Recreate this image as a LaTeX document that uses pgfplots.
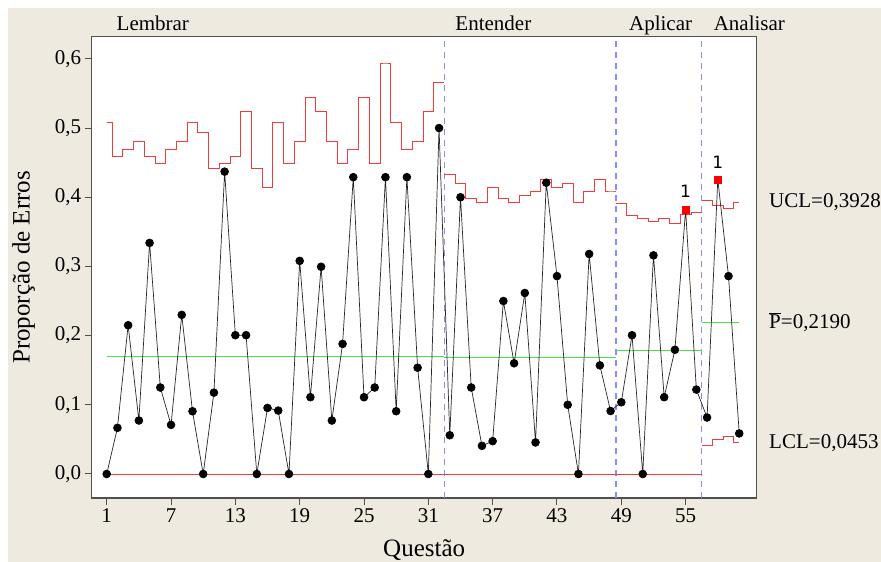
\documentclass[border=0pt]{standalone}
\usepackage{fontspec}
\setmainfont{Liberation Serif}
\newfontfamily\dejavu{DejaVu Sans}
\usepackage{pgfplots}
\pgfplotsset{compat=1.18}
\usepackage{pgfplotstable}

\definecolor{bege}{RGB}{238,234,224}
\definecolor{limred}{RGB}{242,60,60}
\definecolor{clgreen}{RGB}{70,228,70}
\definecolor{secblue}{RGB}{140,140,250}
\definecolor{axgray}{RGB}{80,80,80}

% proporcao de erros por questao (c: n = normal, o = fora de controle)
\pgfplotstableread{
q p c
1 0 n
2 0.0667 n
3 0.215 n
4 0.0773 n
5 0.334 n
6 0.125 n
7 0.071 n
8 0.230 n
9 0.0907 n
10 0 n
11 0.1176 n
12 0.437 n
13 0.2006 n
14 0.2006 n
15 0 n
16 0.0955 n
17 0.0917 n
18 0 n
19 0.308 n
20 0.111 n
21 0.2995 n
22 0.0773 n
23 0.188 n
24 0.429 n
25 0.111 n
26 0.125 n
27 0.429 n
28 0.0907 n
29 0.429 n
30 0.1536 n
31 0 n
32 0.5 n
33 0.056 n
34 0.400 n
35 0.125 n
36 0.0407 n
37 0.0475 n
38 0.250 n
39 0.160 n
40 0.2616 n
41 0.0456 n
42 0.421 n
43 0.286 n
44 0.100 n
45 0 n
46 0.318 n
47 0.157 n
48 0.091 n
49 0.1037 n
50 0.2006 n
51 0 n
52 0.316 n
53 0.111 n
54 0.1795 n
55 0.382 o
56 0.122 n
57 0.0816 n
58 0.4258 o
59 0.286 n
60 0.0586 n
}\props

\begin{document}
\begin{tikzpicture}
\useasboundingbox (0,0) rectangle (881pt,-562pt);
\fill[white] (0,0) rectangle (881pt,-562pt);
\fill[bege] (8pt,-8pt) rectangle (881pt,-562pt);
\begin{axis}[
    at={(91.7pt,-498pt)}, anchor=south west,
    scale only axis, width=665pt, height=461.3pt,
    xmin=-0.4, xmax=61.63, ymin=-0.0347, ymax=0.632,
    xtick={1,7,13,19,25,31,37,43,49,55},
    ytick={0,0.1,0.2,0.3,0.4,0.5,0.6},
    tick align=outside, major tick length=7pt,
    xtick pos=bottom, ytick pos=left,
    axis line style={axgray, line width=1.2pt},
    every tick/.style={axgray, line width=1pt},
    yticklabel style={/pgf/number format/.cd, use comma, fixed, fixed zerofill, precision=1},
    /pgf/number format/assume math mode=true,
    tick label style={font=\fontsize{21}{24}\selectfont},
    xlabel={Questão}, ylabel={Proporção de Erros},
    label style={font=\fontsize{25}{28}\selectfont},
    xlabel style={at={(axis description cs:0.5,-0.1127)}, anchor=center},
    ylabel style={at={(axis description cs:-0.1023,0.5)}, anchor=center},
    axis background/.style={fill=white},
    clip=false,
    mark size=3.9pt,
]
% divisoes entre niveis
\addplot[secblue, line width=1.25pt, dash pattern=on 6pt off 5pt] coordinates {(32.5,-0.0347) (32.5,0.632)};
\addplot[secblue, line width=1.25pt, dash pattern=on 6pt off 5pt] coordinates {(48.5,-0.0347) (48.5,0.632)};
\addplot[secblue, line width=1.25pt, dash pattern=on 6pt off 5pt] coordinates {(56.5,-0.0347) (56.5,0.632)};

% linha central
\addplot[clgreen, line width=0.9pt] coordinates {(1,0.170) (32.5,0.170)};
\addplot[clgreen, line width=0.9pt] coordinates {(32.5,0.169) (48.5,0.169)};
\addplot[clgreen, line width=0.9pt] coordinates {(48.5,0.1785) (56.5,0.1785)};
\addplot[clgreen, line width=0.9pt] coordinates {(56.5,0.219) (60,0.219)};

% LCL
\addplot[limred, line width=0.9pt] coordinates {(1,0) (56.5,0)};
\addplot[limred, line width=0.9pt, const plot mark mid] coordinates {
    (56.5,0.0418) (57,0.0418) (58,0.0504) (59,0.0537) (60,0.0453)};

% UCL
\addplot[limred, line width=0.9pt, const plot mark mid] coordinates {
    (1,0.508) (2,0.459) (3,0.469) (4,0.4805) (5,0.459) (6,0.449) (7,0.469) (8,0.4805)
    (9,0.508) (10,0.494) (11,0.4416) (12,0.449) (13,0.459) (14,0.524) (15,0.4416)
    (16,0.4147) (17,0.508) (18,0.449) (19,0.4805) (20,0.544) (21,0.524) (22,0.4805)
    (23,0.449) (24,0.469) (25,0.544) (26,0.449) (27,0.594) (28,0.508) (29,0.469)
    (30,0.4805) (31,0.524) (32,0.566) (32.5,0.566)};
\addplot[limred, line width=0.9pt, const plot mark mid] coordinates {
    (32.5,0.433) (33,0.433) (34,0.4195) (35,0.398) (36,0.393) (37,0.4137) (38,0.398)
    (39,0.393) (40,0.403) (41,0.4085) (42,0.4258) (43,0.4137) (44,0.420) (45,0.393)
    (46,0.4085) (47,0.4258) (48,0.409) (48.5,0.409)};
\addplot[limred, line width=0.9pt, const plot mark mid] coordinates {
    (48.5,0.3917) (49,0.3917) (50,0.373) (51,0.3696) (52,0.3647) (53,0.3696)
    (54,0.3624) (55,0.3758) (56,0.3787) (56.5,0.3787)};
\addplot[limred, line width=0.9pt, const plot mark mid] coordinates {
    (56.5,0.3955) (57,0.3955) (58,0.3888) (59,0.384) (60,0.392)};

% proporcoes
\addplot[black!85, line width=0.7pt, scatter, scatter src=explicit symbolic,
    scatter/classes={n={mark=*, black}, o={mark=square*, red, mark size=3.5pt}}]
    table[x=q, y=p, meta=c] {\props};

\node[font=\dejavu\fontsize{17}{19}\selectfont, anchor=base, yshift=12pt] at (axis cs:55,0.382) {1};
\node[font=\dejavu\fontsize{17}{19}\selectfont, anchor=base, yshift=11pt] at (axis cs:58,0.4258) {1};

% niveis
\node[font=\fontsize{21}{24}\selectfont, anchor=base west, yshift=6.7pt] at (axis cs:1.6,0.632) {Lembrar};
\node[font=\fontsize{21}{24}\selectfont, anchor=base west, yshift=6.7pt] at (axis cs:33.2,0.632) {Entender};
\node[font=\fontsize{21}{24}\selectfont, anchor=base west, yshift=6.7pt] at (axis cs:49.4,0.632) {Aplicar};
\node[font=\fontsize{21}{24}\selectfont, anchor=base west, yshift=6.7pt] at (axis cs:57.3,0.632) {Analisar};

% limites
\node[font=\fontsize{21}{24}\selectfont, anchor=west, xshift=9pt] at (axis cs:61.63,0.3928) {UCL=0,3928};
\node[font=\fontsize{21}{24}\selectfont, anchor=west, xshift=9pt] at (axis cs:61.63,0.2190) {$\overline{\mbox{P}}$=0,2190};
\node[font=\fontsize{21}{24}\selectfont, anchor=west, xshift=9pt] at (axis cs:61.63,0.0453) {LCL=0,0453};
\end{axis}
\end{tikzpicture}
\end{document}
